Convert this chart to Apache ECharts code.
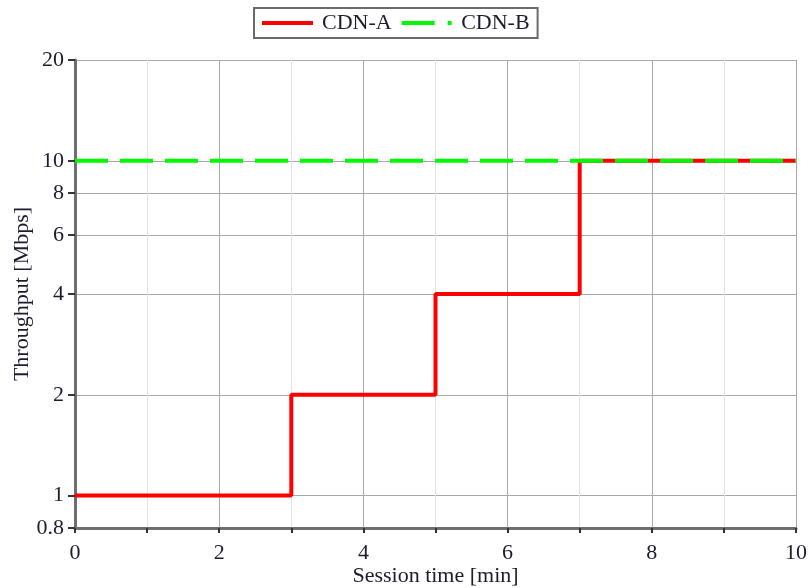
<!DOCTYPE html>
<html>
<head>
<meta charset="utf-8">
<script src="https://cdn.jsdelivr.net/npm/echarts@6/dist/echarts.min.js"></script>
<style>
  html, body { margin: 0; padding: 0; background: #fff; }
  #chart { width: 808px; height: 588px; }
</style>
</head>
<body>
<div id="chart"></div>
<script>
// session time [min] and throughput [Mbps]
const cdnA = [[0, 1], [3, 2], [5, 4], [7, 10], [10, 10]]
const cdnB = [[0, 10], [10, 10]]
const yTicks = [0.8, 1, 2, 4, 6, 8, 10, 20]

const serif = '"Liberation Serif", "DejaVu Serif", serif'
const txt = '#1c1c2e'

let myChart = echarts.init(document.getElementById('chart'))
let option = {
  animation: false,
  textStyle: { fontFamily: serif },
  legend: {
    top: 8,
    left: 254,
    padding: [4, 8, 4, 8],
    itemGap: 10,
    itemWidth: 51,
    itemHeight: 4,
    borderColor: '#6a6a6a',
    borderWidth: 2,
    textStyle: { fontFamily: serif, fontSize: 22, color: txt, padding: [0, 0, 0, 4] },
    data: [
      { name: 'CDN-A', icon: 'path://M0,0H51V4H0Z' },
      { name: 'CDN-B', icon: 'path://M0,0H33V4H0Z M46,0H50V4H46Z' }
    ]
  },
  grid: {
    left: 75,
    right: 12,
    top: 60,
    bottom: 60,
    containLabel: false,
    outerBoundsMode: 'none'
  },
  xAxis: {
    type: 'value',
    min: 0,
    max: 10,
    interval: 1,
    name: 'Session time [min]',
    nameLocation: 'middle',
    nameGap: 37,
    nameMoveOverlap: false,
    nameTextStyle: { fontFamily: serif, fontSize: 22, color: txt },
    axisLine: { lineStyle: { color: '#6e6e6e', width: 3 } },
    axisTick: { inside: false, length: 5, lineStyle: { color: '#333', width: 2 } },
    axisLabel: {
      fontFamily: serif,
      fontSize: 22,
      color: txt,
      margin: 14,
      formatter: function (v) { return v % 2 === 0 ? v : '' }
    },
    splitLine: {
      show: true,
      lineStyle: { color: ['#a8a8a8', '#e2e2e2'], width: 1 }
    }
  },
  yAxis: {
    type: 'log',
    logBase: 10,
    min: 0.8,
    max: 20,
    name: 'Throughput [Mbps]',
    nameLocation: 'middle',
    nameGap: 42,
    nameMoveOverlap: false,
    nameRotate: 90,
    nameTextStyle: { fontFamily: serif, fontSize: 22, color: txt },
    axisLine: { show: true, lineStyle: { color: '#6e6e6e', width: 3 } },
    axisTick: {
      show: true,
      length: 7,
      customValues: yTicks,
      lineStyle: { color: '#333', width: 2 }
    },
    axisLabel: {
      fontFamily: serif,
      fontSize: 22,
      color: txt,
      margin: 11,
      customValues: yTicks
    },
    splitLine: {
      show: true,
      lineStyle: { color: '#a8a8a8', width: 1 }
    },
    minorSplitLine: { show: false }
  },
  series: [
    {
      name: 'CDN-A',
      type: 'line',
      step: 'end',
      symbol: 'none',
      data: cdnA,
      z: 3,
      color: '#ff0000',
      lineStyle: { color: '#ff0000', width: 4 }
    },
    {
      name: 'CDN-B',
      type: 'line',
      symbol: 'none',
      data: cdnB,
      z: 4,
      color: '#00f800',
      lineStyle: { color: '#00f800', width: 4, type: [33, 12] }
    }
  ]
}
myChart.setOption(option)
window.addEventListener('resize', function () {
  myChart.resize()
})
</script>
</body>
</html>
